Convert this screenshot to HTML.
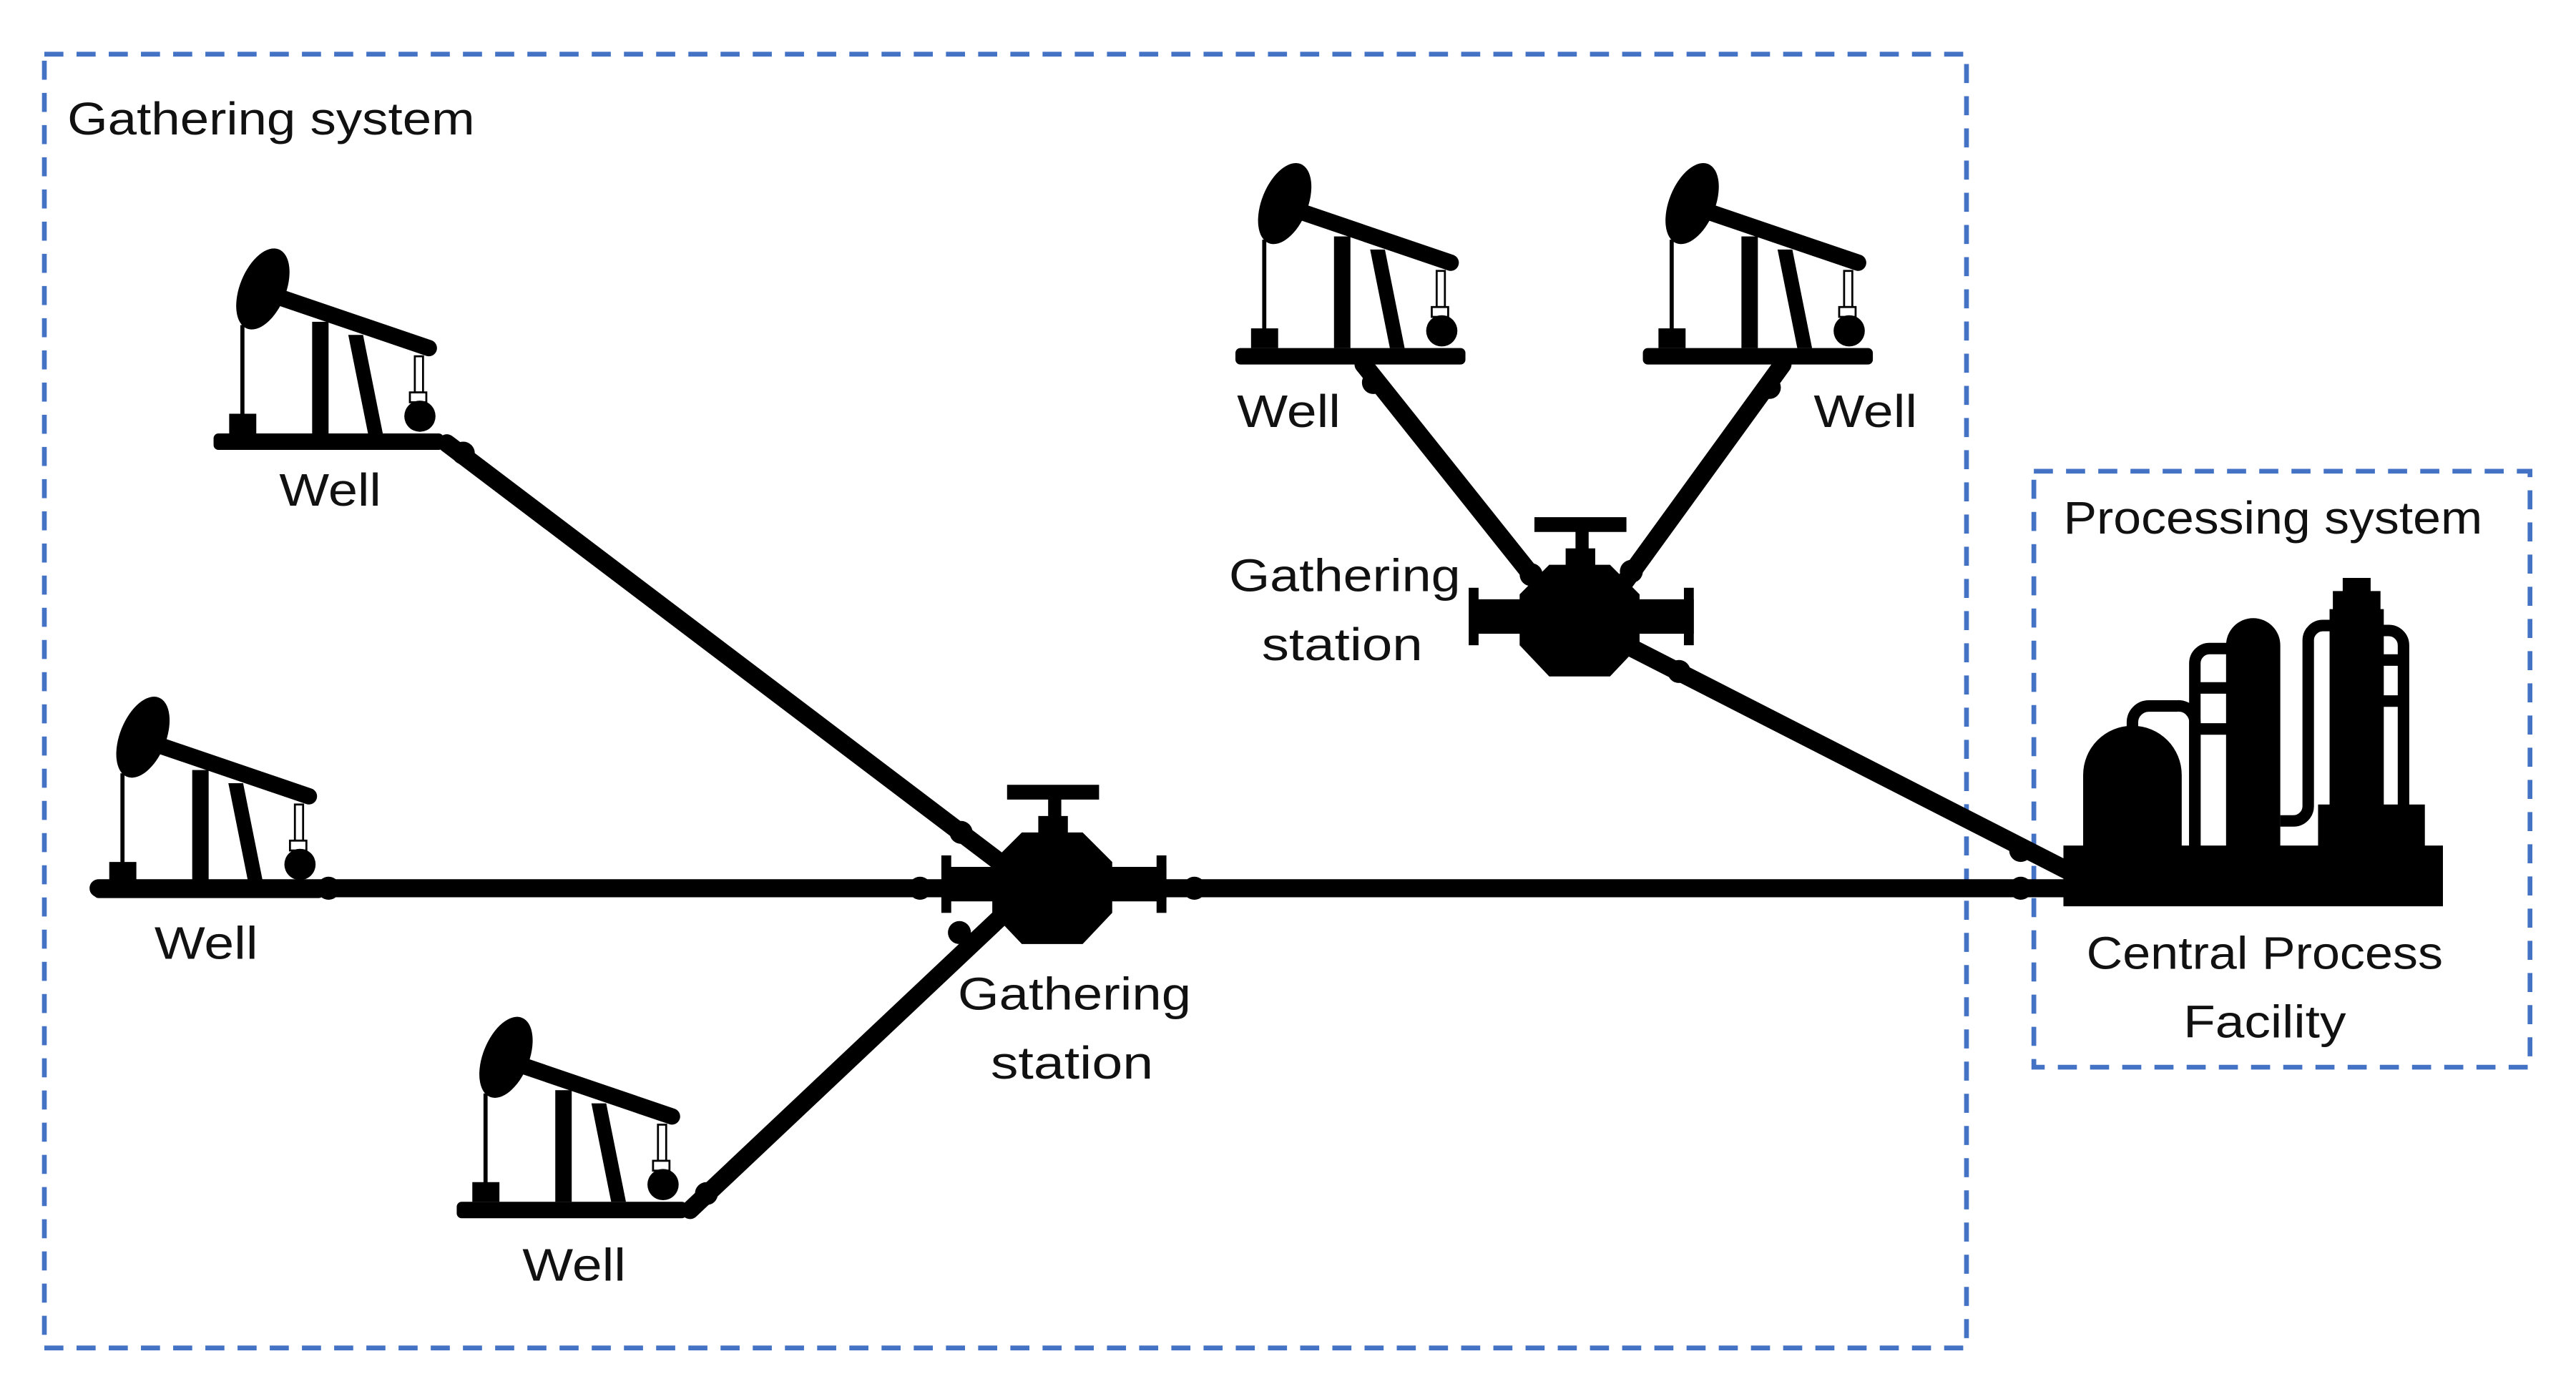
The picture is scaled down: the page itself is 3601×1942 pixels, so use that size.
<!DOCTYPE html>
<html><head><meta charset="utf-8"><style>
html,body{margin:0;padding:0;background:#fff;}
svg{display:block;}
text{font-family:"Liberation Sans",sans-serif;fill:#111;}
</style></head><body>
<svg width="3601" height="1942" viewBox="0 0 1568 846" preserveAspectRatio="none" xmlns="http://www.w3.org/2000/svg">
<defs>
<g id="pj">
  <rect x="0" y="0" width="140" height="10" rx="3" fill="#000"/>
  <rect x="9.5" y="-12" width="16.5" height="12" fill="#000"/>
  <rect x="16.3" y="-66" width="2.5" height="56" fill="#000"/>
  <ellipse cx="30" cy="-88" rx="14" ry="26" transform="rotate(22 30 -88)" fill="#000"/>
  <line x1="40" y1="-83" x2="131" y2="-52" stroke="#000" stroke-width="10" stroke-linecap="round"/>
  <rect x="60" y="-68" width="10" height="68" fill="#000"/>
  <polygon points="82,-60 91,-60 103,0 94,0" fill="#000"/>
  <rect x="122.5" y="-47" width="5" height="22" fill="#fff" stroke="#000" stroke-width="1.2"/>
  <rect x="119.5" y="-25" width="10" height="6" fill="#fff" stroke="#000" stroke-width="1.2"/>
  <circle cx="125.6" cy="-10.5" r="9.5" fill="#000"/>
</g>
<g id="valve">
  <rect x="613" y="478" width="56" height="9" fill="#000"/>
  <rect x="638" y="486" width="8" height="12" fill="#000"/>
  <rect x="632" y="497" width="18" height="11" fill="#000"/>
  <polygon points="622,507 659,507 677,525 677,556 659,575 622,575 604,556 604,525" fill="#000"/>
  <rect x="575" y="528" width="135" height="21" fill="#000"/>
  <rect x="573" y="521" width="6" height="35" fill="#000"/>
  <rect x="704" y="521" width="6" height="35" fill="#000"/>
</g>
</defs>

<rect x="27" y="33" width="1170" height="788" fill="none" stroke="#4472C4" stroke-width="2.9" stroke-dasharray="11.6,8"/>
<rect x="1238" y="287" width="302" height="363" fill="none" stroke="#4472C4" stroke-width="2.9" stroke-dasharray="11.6,8"/>

<g stroke="#000" stroke-width="11" stroke-linecap="round" fill="none">
  <line x1="272" y1="270" x2="615" y2="530"/>
  <line x1="60" y1="541" x2="1262" y2="541"/>
  <line x1="420" y1="737" x2="615" y2="553"/>
  <line x1="830" y1="222" x2="940" y2="360"/>
  <line x1="1085" y1="222" x2="985" y2="360"/>
  <line x1="990" y1="393" x2="1262" y2="532"/>
</g>
<g fill="#000">
  <circle cx="200" cy="541" r="7"/>
  <circle cx="560" cy="541" r="7"/>
  <circle cx="727" cy="541" r="7"/>
  <circle cx="1230" cy="541" r="7"/>
  <circle cx="282" cy="276" r="7"/>
  <circle cx="585" cy="507" r="7"/>
  <circle cx="584" cy="568" r="7"/>
  <circle cx="430" cy="727" r="7"/>
  <circle cx="836" cy="233" r="7"/>
  <circle cx="1077" cy="236" r="7"/>
  <circle cx="932" cy="350" r="7"/>
  <circle cx="993" cy="348" r="7"/>
  <circle cx="1022" cy="409" r="7"/>
  <circle cx="1230" cy="518" r="7"/>
</g>

<use href="#pj" transform="translate(130,264)"/>
<use href="#pj" transform="translate(57,537)"/>
<use href="#pj" transform="translate(278,732)"/>
<use href="#pj" transform="translate(752,212)"/>
<use href="#pj" transform="translate(1000,212)"/>

<use href="#valve"/>
<use href="#valve" transform="translate(321,-163)"/>

<g fill="#000">
  <rect x="1256" y="515" width="231" height="37"/>
</g>
<g transform="translate(5,0)">
<g fill="#000">
  <rect x="1406" y="490" width="65" height="26"/>
  <path d="M1263 516 V472 A30 30 0 0 1 1323 472 V516 Z"/>
  <path d="M1350 516 V393 A16.5 16.5 0 0 1 1383 393 V516 Z"/>
  <rect x="1413" y="371" width="33" height="120"/>
  <rect x="1415" y="360" width="29" height="12"/>
  <rect x="1421" y="352" width="17" height="10"/>
</g>
<g stroke="#000" stroke-width="7" fill="none">
  <path d="M1293 446 V440 A10 10 0 0 1 1303 430 H1320 A10 10 0 0 1 1331 441 V516"/>
  <path d="M1331 516 V404 A9 9 0 0 1 1340 395 H1352"/>
  <line x1="1331" y1="419" x2="1352" y2="419"/>
  <line x1="1331" y1="444" x2="1352" y2="444"/>
  <path d="M1383 500 H1391 A9 9 0 0 0 1400 491 V390 A9 9 0 0 1 1409 381 H1415"/>
  <path d="M1445 384 H1449 A9 9 0 0 1 1458 393 V491"/>
  <line x1="1445" y1="402" x2="1458" y2="402"/>
  <line x1="1445" y1="427" x2="1458" y2="427"/>
</g>
</g>

<g font-size="28">
  <text x="41" y="82" textLength="248" lengthAdjust="spacingAndGlyphs">Gathering system</text>
  <text x="170" y="308" textLength="62" lengthAdjust="spacingAndGlyphs">Well</text>
  <text x="94" y="584" textLength="63" lengthAdjust="spacingAndGlyphs">Well</text>
  <text x="318" y="780" textLength="63" lengthAdjust="spacingAndGlyphs">Well</text>
  <text x="753" y="260" textLength="63" lengthAdjust="spacingAndGlyphs">Well</text>
  <text x="1104" y="260" textLength="63" lengthAdjust="spacingAndGlyphs">Well</text>
  <text x="748" y="360" textLength="141" lengthAdjust="spacingAndGlyphs">Gathering</text>
  <text x="768" y="402" textLength="98" lengthAdjust="spacingAndGlyphs">station</text>
  <text x="583" y="615" textLength="142" lengthAdjust="spacingAndGlyphs">Gathering</text>
  <text x="603" y="657" textLength="99" lengthAdjust="spacingAndGlyphs">station</text>
  <text x="1256" y="325" textLength="255" lengthAdjust="spacingAndGlyphs">Processing system</text>
  <text x="1270" y="590" textLength="217" lengthAdjust="spacingAndGlyphs">Central Process</text>
  <text x="1329" y="632" textLength="99" lengthAdjust="spacingAndGlyphs">Facility</text>
</g>
</svg>
</body></html>
